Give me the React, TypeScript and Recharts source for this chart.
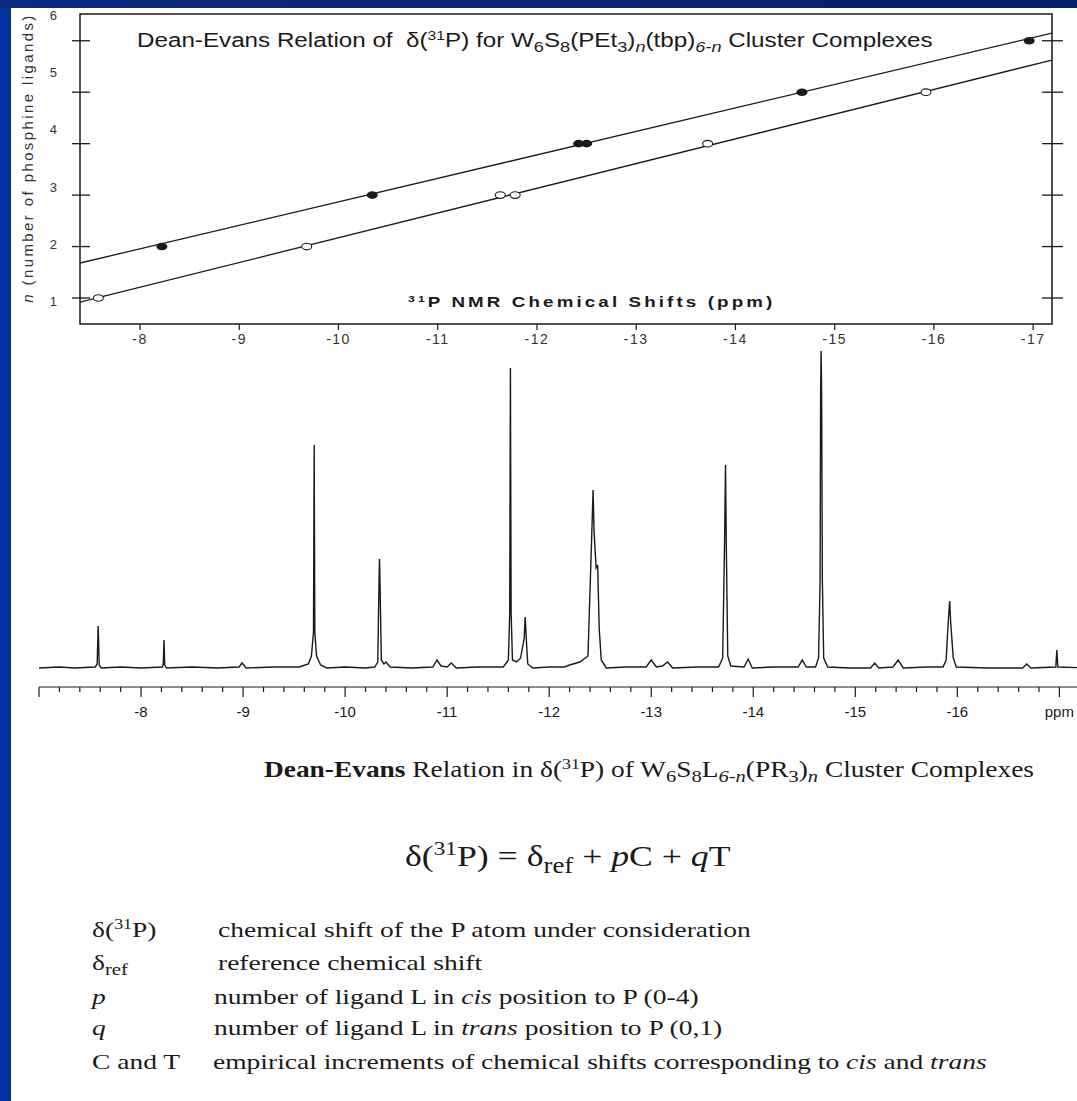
import React from "react";
import { ComposedChart, LineChart, Line, Scatter, XAxis, YAxis, ReferenceArea } from "recharts";

// top plot: n vs 31P shift
const nTicks = [1, 2, 3, 4, 5, 6];
const topPpmTicks = [-8, -9, -10, -11, -12, -13, -14, -15, -16, -17];

const pet3Points = [
  { ppm: -8.22, n: 2 },
  { ppm: -10.34, n: 3 },
  { ppm: -12.42, n: 4 },
  { ppm: -12.5, n: 4 },
  { ppm: -14.67, n: 5 },
  { ppm: -16.96, n: 6 },
];
const tbpPoints = [
  { ppm: -7.58, n: 1 },
  { ppm: -9.68, n: 2 },
  { ppm: -11.63, n: 3 },
  { ppm: -11.78, n: 3 },
  { ppm: -13.72, n: 4 },
  { ppm: -15.92, n: 5 },
];
const upperFit = [
  { ppm: -7.395, n: 1.68 },
  { ppm: -17.19, n: 6.15 },
];
const lowerFit = [
  { ppm: -7.395, n: 0.92 },
  { ppm: -17.19, n: 5.625 },
];

// bottom: 31P NMR spectrum, [ppm, intensity]
const spectrum: [number, number][] = [
  [-7.0, 0], [-7.2, 1], [-7.35, 0], [-7.55, 1], [-7.57, 4], [-7.58, 42], [-7.59, 3], [-7.61, 0],
  [-7.8, 1], [-8.0, 0], [-8.21, 1], [-8.218, 4], [-8.225, 28], [-8.232, 3], [-8.25, 0],
  [-8.5, 1], [-8.75, 0], [-8.96, 1], [-8.99, 5], [-9.03, 0],
  [-9.3, 1], [-9.55, 1], [-9.64, 4], [-9.67, 12], [-9.69, 36], [-9.697, 223], [-9.703, 36], [-9.72, 12], [-9.76, 3], [-9.82, 0],
  [-10.0, 1], [-10.2, 0], [-10.29, 1], [-10.32, 6], [-10.332, 85], [-10.337, 109], [-10.342, 85], [-10.355, 8], [-10.38, 4], [-10.4, 6], [-10.44, 1],
  [-10.65, 0], [-10.86, 1], [-10.9, 8], [-10.94, 2], [-11.0, 1], [-11.04, 5], [-11.09, 0],
  [-11.3, 1], [-11.55, 1], [-11.6, 8], [-11.613, 55], [-11.62, 300], [-11.627, 55], [-11.64, 8], [-11.68, 6], [-11.72, 10],
  [-11.755, 30], [-11.765, 51], [-11.775, 30], [-11.79, 4], [-11.84, 0],
  [-12.0, 1], [-12.15, 1], [-12.2, 3], [-12.3, 6], [-12.38, 12], [-12.418, 136], [-12.43, 178], [-12.44, 136], [-12.46, 100],
  [-12.475, 103], [-12.49, 40], [-12.51, 8], [-12.56, 0],
  [-12.75, 1], [-12.95, 1], [-13.0, 8], [-13.05, 1], [-13.11, 2], [-13.16, 6], [-13.21, 0],
  [-13.45, 1], [-13.66, 1], [-13.7, 10], [-13.718, 121], [-13.728, 203], [-13.736, 121], [-13.75, 12], [-13.78, 2],
  [-13.91, 1], [-13.95, 9], [-13.99, 0], [-14.2, 1], [-14.44, 1], [-14.48, 8], [-14.52, 1],
  [-14.61, 1], [-14.64, 10], [-14.655, 88], [-14.66, 275], [-14.665, 317], [-14.67, 275], [-14.677, 88], [-14.69, 10], [-14.73, 1],
  [-14.95, 0], [-15.15, 0], [-15.19, 5], [-15.23, 0], [-15.37, 1], [-15.42, 8], [-15.47, 0],
  [-15.7, 1], [-15.86, 1], [-15.89, 8], [-15.91, 45], [-15.925, 67], [-15.935, 45], [-15.96, 10], [-15.99, 1],
  [-16.3, 0], [-16.64, 0], [-16.68, 4], [-16.72, 0], [-16.965, 1], [-16.975, 18], [-16.985, 1], [-17.3, 0],
];
const spectrumData = spectrum.map(([ppm, i]) => ({ ppm, i }));

const majorPpm = [-7, -8, -9, -10, -11, -12, -13, -14, -15, -16, -17];
const bottomTicks: number[] = [];
majorPpm.forEach((m) => {
  for (let k = 0; k < 5; k++) bottomTicks.push(+(m - k * 0.2).toFixed(1));
});

const ink = "#1a1a1a";
const sans = "'Liberation Sans', Arial, sans-serif";
const serif = "'Liberation Serif', 'Times New Roman', serif";
// the source slide is stretched horizontally, so text is widened
const stretch = (s: number) => ({ transform: `scaleX(${s})`, transformOrigin: "0 50%" });

function CrossTick(props: any) {
  const { x, y, side } = props;
  const a = side === "left" ? -8 : -10;
  const b = side === "left" ? 10 : 11;
  return <line x1={x + a} x2={x + b} y1={y} y2={y} stroke={ink} strokeWidth={1.3} />;
}

function SpecTick(props: any) {
  const { x, y, payload } = props;
  const v = payload.value;
  const major = Math.abs(v - Math.round(v)) < 1e-6;
  let label = major && v !== -7 ? String(v) : "";
  if (v === -17) label = "ppm";
  return (
    <g>
      <line x1={x} x2={x} y1={y} y2={y + (major ? 10 : 5)} stroke={ink} strokeWidth={1.2} />
      {label && (
        <text x={x} y={y + 30} textAnchor="middle" fontSize={15} fontFamily={sans} fill={ink}>
          {label}
        </text>
      )}
    </g>
  );
}

const dotFilled = (p: any) => <ellipse cx={p.cx} cy={p.cy} rx={5.5} ry={3.8} fill={ink} />;
const dotOpen = (p: any) => <ellipse cx={p.cx} cy={p.cy} rx={5} ry={3.3} fill="#fff" stroke={ink} strokeWidth={1.1} />;

const sub = { fontSize: "0.75em", verticalAlign: "-0.3em", lineHeight: 0 } as const;
const sup = { fontSize: "0.65em", verticalAlign: "0.55em", lineHeight: 0 } as const;

export default function App() {
  return (
    <div style={{ position: "relative", width: 1077, height: 1101, background: "#fff", overflow: "hidden", color: ink }}>
      <style>{`body{margin:0}`}</style>
      <div style={{ position: "absolute", left: 0, top: 0, width: 11, height: 1101, background: "#0033a0" }} />
      <div style={{ position: "absolute", left: 0, top: 0, width: 1077, height: 8, background: "linear-gradient(90deg,#0a2a80,#04206a)" }} />

      <div style={{ position: "absolute", left: 0, top: 0 }}>
        <ComposedChart width={1077} height={350} margin={{ top: 14, right: 0, bottom: 0, left: 0 }}>
          <XAxis
            type="number"
            dataKey="ppm"
            domain={[-17.19, -7.395]}
            reversed
            allowDataOverflow
            ticks={topPpmTicks}
            interval={0}
            height={26}
            axisLine={false}
            tickSize={6}
            tickMargin={4}
            tickLine={{ stroke: ink, strokeWidth: 1.2 }}
            tick={{ fontSize: 14, fontFamily: sans, fill: "#333", letterSpacing: 1.5 }}
          />
          <YAxis yAxisId="a" domain={[0.495, 6.52]} ticks={nTicks} allowDataOverflow width={1} tickSize={0} tickMargin={0} axisLine={false} tickLine={false} tick={(p: any) => <CrossTick {...p} side="left" />} />
          <YAxis yAxisId="z" domain={[0.611, 6.017]} ticks={nTicks} allowDataOverflow width={79} tickSize={0} tickMargin={22} axisLine={false} tickLine={false} tick={{ fontSize: 13, fontFamily: sans, fill: "#333" }} />
          <YAxis yAxisId="r" orientation="right" domain={[0.495, 6.52]} ticks={nTicks} allowDataOverflow width={25} tickSize={0} tickMargin={0} axisLine={false} tickLine={false} tick={(p: any) => <CrossTick {...p} side="right" />} />
          <ReferenceArea yAxisId="a" x1={-17.19} x2={-7.395} y1={0.495} y2={6.52} fill="none" stroke={ink} strokeWidth={1.5} ifOverflow="visible" />
          <Line yAxisId="a" data={upperFit} dataKey="n" type="linear" dot={false} stroke={ink} strokeWidth={1.3} isAnimationActive={false} />
          <Line yAxisId="a" data={lowerFit} dataKey="n" type="linear" dot={false} stroke={ink} strokeWidth={1.3} isAnimationActive={false} />
          <Scatter yAxisId="a" data={pet3Points} dataKey="n" shape={dotFilled} isAnimationActive={false} />
          <Scatter yAxisId="a" data={tbpPoints} dataKey="n" shape={dotOpen} isAnimationActive={false} />
        </ComposedChart>
      </div>

      <div style={{ position: "absolute", left: 137, top: 28, fontFamily: sans, fontSize: 20, whiteSpace: "nowrap", lineHeight: "24px", ...stretch(1.21) }}>
        Dean-Evans Relation of &nbsp;δ(<span style={sup}>31</span>P) for W<span style={sub}>6</span>S<span style={sub}>8</span>(PEt<span style={sub}>3</span>)<span style={sub}><i>n</i></span>(tbp)<span style={sub}><i>6-n</i></span> Cluster Complexes
      </div>
      <div style={{ position: "absolute", left: 408, top: 292, fontFamily: sans, fontSize: 15, fontWeight: 600, letterSpacing: 2.5, whiteSpace: "nowrap", lineHeight: "20px", ...stretch(1.25) }}>
        <span style={sup}>31</span>P NMR Chemical Shifts (ppm)
      </div>
      <div style={{ position: "absolute", left: 27, top: 158, width: 0, height: 0 }}>
        <div style={{ position: "absolute", transform: "translate(-50%,-50%) rotate(-90deg)", fontFamily: sans, fontSize: 15, letterSpacing: 2.4, whiteSpace: "nowrap", color: "#333" }}>
          <i>n</i> (number of phosphine ligands)
        </div>
      </div>

      <div style={{ position: "absolute", left: 0, top: 340 }}>
        <LineChart width={1090} height={387} data={spectrumData} margin={{ top: 8, right: 0, bottom: 0, left: 39 }}>
          <XAxis
            type="number"
            dataKey="ppm"
            domain={[-17.3, -7.0]}
            reversed
            allowDataOverflow
            ticks={bottomTicks}
            interval={0}
            height={40}
            axisLine={{ stroke: ink, strokeWidth: 1.2 }}
            tickLine={false}
            tickSize={0}
            tickMargin={0}
            tick={(p: any) => <SpecTick {...p} />}
          />
          <YAxis hide domain={[-19, 320]} allowDataOverflow />
          <Line dataKey="i" type="linear" dot={false} stroke={ink} strokeWidth={1.4} isAnimationActive={false} />
        </LineChart>
      </div>

      <div style={{ position: "absolute", left: 264, top: 756, fontFamily: serif, fontSize: 23, whiteSpace: "nowrap", lineHeight: "28px", ...stretch(1.19) }}>
        <b>Dean-Evans</b> Relation in δ(<span style={sup}>31</span>P) of W<span style={sub}>6</span>S<span style={sub}>8</span>L<span style={sub}><i>6-n</i></span>(PR<span style={sub}>3</span>)<span style={sub}><i>n</i></span> Cluster Complexes
      </div>
      <div style={{ position: "absolute", left: 405, top: 838, fontFamily: serif, fontSize: 30, whiteSpace: "nowrap", lineHeight: "36px", ...stretch(1.19) }}>
        δ(<span style={sup}>31</span>P) = δ<span style={sub}>ref</span> + <i>p</i>C + <i>q</i>T
      </div>
      {[
        { k: <>δ(<span style={sup}>31</span>P)</>, t: <>chemical shift of the P atom under consideration</>, x: 218, y: 930 },
        { k: <>δ<span style={sub}>ref</span></>, t: <>reference chemical shift</>, x: 218, y: 963 },
        { k: <i>p</i>, t: <>number of ligand L in <i>cis</i> position to P (0-4)</>, x: 214, y: 997 },
        { k: <i>q</i>, t: <>number of ligand L in <i>trans</i> position to P (0,1)</>, x: 214, y: 1028 },
        { k: <>C and T</>, t: <>empirical increments of chemical shifts corresponding to <i>cis</i> and <i>trans</i></>, x: 213, y: 1062 },
      ].map((r, i) => (
        <React.Fragment key={i}>
          <div style={{ position: "absolute", left: 92, top: r.y - 13, fontFamily: serif, fontSize: 22, lineHeight: "26px", whiteSpace: "nowrap", ...stretch(1.25) }}>{r.k}</div>
          <div style={{ position: "absolute", left: r.x, top: r.y - 13, fontFamily: serif, fontSize: 22, lineHeight: "26px", whiteSpace: "nowrap", ...stretch(1.25) }}>{r.t}</div>
        </React.Fragment>
      ))}
    </div>
  );
}
